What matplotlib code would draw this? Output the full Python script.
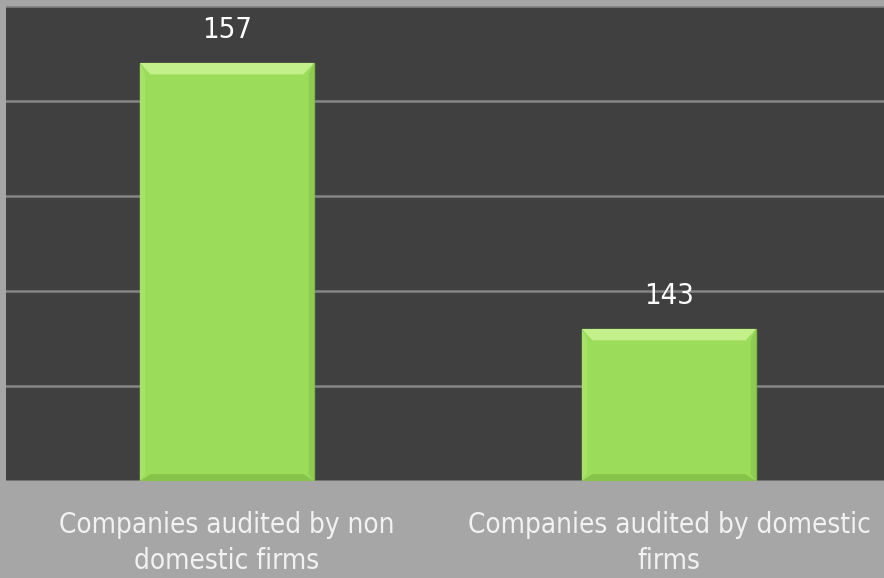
import matplotlib.pyplot as plt
from matplotlib.patches import Polygon
import numpy as np

categories = ["Companies audited by non\ndomestic firms",
              "Companies audited by domestic\nfirms"]
counts = [157, 143]

plt.rcParams['font.family'] = ['DejaVu Sans']
plt.rcParams['font.stretch'] = 'condensed'

fig = plt.figure(figsize=(8.84, 5.78), dpi=100)
fig.patch.set_facecolor('#a6a6a6')
ax = fig.add_axes([6/884, 97/578, 884/884, 475/578])
ax.set_facecolor('#404040')

base = 135
w = 0.394
x = np.arange(len(counts))
ax.bar(x, [c - base for c in counts], bottom=base, width=w,
       color='#9bdc5a', edgecolor='#7cb544', linewidth=1.0, zorder=3)

# bevel look: trapezoids along the edges of each bar
dx, dy = 0.024, 0.6
for xi, c in zip(x, counts):
    l, r = xi - w/2, xi + w/2
    top = Polygon([(l, c), (r, c), (r - dx, c - dy), (l + dx, c - dy)],
                  closed=True, color='#c4f08c', lw=0, zorder=4)
    bot = Polygon([(l, base), (r, base), (r - dx, base + dy*0.6), (l + dx, base + dy*0.6)],
                  closed=True, color='#86c34a', lw=0, zorder=4)
    rgt = Polygon([(r, c), (r, base), (r - dx*0.5, base + dy*0.6), (r - dx*0.5, c - dy)],
                  closed=True, color='#8dcc4f', lw=0, zorder=4)
    lft = Polygon([(l, c), (l, base), (l + dx*0.5, base + dy*0.6), (l + dx*0.5, c - dy)],
                  closed=True, color='#a6e266', lw=0, zorder=4)
    for p in (top, bot, rgt, lft):
        ax.add_patch(p)
    ax.annotate(str(c), (xi, c), xytext=(0, 18), textcoords='offset points',
                ha='center', va='baseline', color='white', fontsize=21, zorder=5)

ax.set_xlim(-0.5, 1.5)
ax.set_ylim(base, 160)
ax.set_yticks(np.arange(base, 161, 5))
ax.yaxis.grid(True, color='#868686', linewidth=1.8, zorder=0)
ax.set_axisbelow(True)
ax.tick_params(left=False, bottom=False, labelleft=False)
ax.set_xticks(x)
ax.set_xticklabels(categories, color='#f2f2f2', fontsize=20, linespacing=1.35)
ax.tick_params(axis='x', pad=18)
for s in ax.spines.values():
    s.set_visible(False)

fig.savefig('out.png', dpi=100, facecolor=fig.get_facecolor())
